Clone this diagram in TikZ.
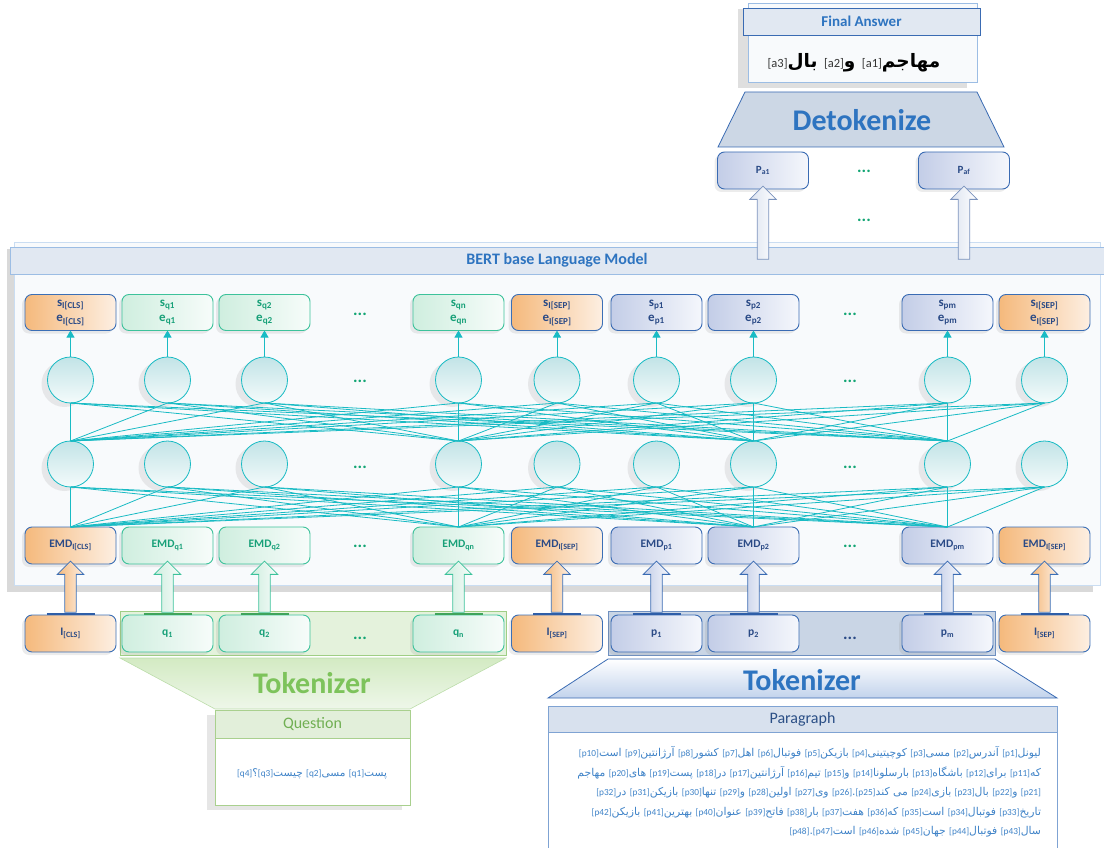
\documentclass[tikz,border=0pt]{standalone}
\usepackage{fontspec}
\setmainfont{Carlito}
\newfontfamily\fa[Script=Arabic]{DejaVu Sans}
\TeXXeTstate=1
\usetikzlibrary{shapes.arrows,shadows,calc,arrows.meta}
\definecolor{cyanL}{HTML}{19BBC4}
\definecolor{oF}{HTML}{F5B97C}
\definecolor{oL}{HTML}{FDEFE2}
\definecolor{oD}{HTML}{3B6FB6}
\definecolor{oT}{HTML}{2A4A86}
\definecolor{otab}{HTML}{2E5EA8}
\definecolor{gF}{HTML}{CFEEDF}
\definecolor{gL}{HTML}{F7FCFA}
\definecolor{gD}{HTML}{3DC29B}
\definecolor{gT}{HTML}{17A078}
\definecolor{gtab}{HTML}{3FA45B}
\definecolor{bF}{HTML}{C3CDE7}
\definecolor{bL}{HTML}{F5F7FC}
\definecolor{bD}{HTML}{3A6BB3}
\definecolor{bT}{HTML}{2A4A86}
\definecolor{btab}{HTML}{2E5EA8}
\definecolor{tF}{HTML}{DCE3F0}
\definecolor{tL}{HTML}{FFFFFF}
\definecolor{tD}{HTML}{7B93BD}
\definecolor{dotG}{HTML}{13A574}
\definecolor{dotB}{HTML}{2A4A86}
\definecolor{titleB}{HTML}{2E74C0}
\definecolor{hdrF}{HTML}{E1E8F2}
\definecolor{hdrD}{HTML}{9CBDE4}
\definecolor{panelF}{HTML}{F8FAFC}
\definecolor{panelD}{HTML}{CADDF2}
\definecolor{circT}{HTML}{C2E4E7}
\definecolor{circB}{HTML}{F4FBFB}
\definecolor{tokG}{HTML}{7DC35B}
\definecolor{qHF}{HTML}{E2EFDA}
\definecolor{qHD}{HTML}{A9D08E}
\definecolor{farsiB}{HTML}{3F83C8}
\definecolor{paraHF}{HTML}{D8E1EE}
\definecolor{paraD}{HTML}{7FA3D3}
\definecolor{paraT}{HTML}{2B4F86}
\definecolor{greyblue}{HTML}{C9D5E5}
\definecolor{greyblueD}{HTML}{6F90C0}
\definecolor{lgreen}{HTML}{E4F2DC}
\definecolor{lgreenD}{HTML}{9FCE85}
\definecolor{trapG}{HTML}{D3EAC3}
\definecolor{trapGL}{HTML}{EEF7E9}
\definecolor{trapB}{HTML}{C2D3EC}
\definecolor{detF}{HTML}{CCD7E5}
\definecolor{ansG}{HTML}{333333}
\newcommand\tagsize{\fontsize{9.3}{10}\selectfont}
\newcommand\ptag[1]{\beginL{\rmfamily\tagsize[#1]}\endL}
\newcommand\atag[1]{\beginL{\rmfamily\mdseries\fontsize{12.5}{13}\selectfont\color{ansG}[#1]}\endL}
\begin{document}
\begin{tikzpicture}[x=1pt,y=-1pt,
  every node/.style={inner sep=0pt, outer sep=0pt},
  boxkind/.style={left color=#1F, right color=#1L, draw=#1D, text=#1T},
  box/.style={rounded corners=7pt, minimum width=91pt, minimum height=37pt, line width=0.9pt,
    font=\bfseries\fontsize{11.5}{13}\selectfont,
    drop shadow={shadow xshift=-3pt, shadow yshift=-3pt, opacity=0.15}},
  sebox/.style={box, minimum height=36pt, align=center, font=\bfseries\fontsize{13}{15.5}\selectfont},
  neuron/.style={circle, minimum size=46pt, draw=cyanL, line width=0.8pt, top color=circT, bottom color=circB,
    drop shadow={shadow xshift=-6pt, shadow yshift=-4pt, opacity=0.15}},
  net/.style={draw=cyanL, line width=0.8pt},
  cyarrow/.style={draw=cyanL, line width=0.9pt, -{Triangle[length=7pt,width=8pt]}},
  harrow/.style={single arrow, shape border rotate=90, inner sep=5.3pt, single arrow head extend=7.5pt,
    line width=0.8pt, left color=#1F, right color=#1L, draw=#1D},
  dots/.style={font=\bfseries\fontsize{17}{17}\selectfont, text=dotG},
  para/.style={anchor=east, text=farsiB, font=\fa\fontsize{10.8}{12}\selectfont},
  title/.style={font=\bfseries\fontsize{30}{32}\selectfont},
]
\useasboundingbox (0,0) rectangle (1104,848);

% ---------- Final answer ----------
\node[draw=hdrD, fill=panelF, minimum width=229pt, minimum height=79pt,
  drop shadow={shadow xshift=-10pt, shadow yshift=-6pt, opacity=0.25}] (fabox) at (862.5,42.5) {};
\node[draw=bD, fill=hdrF, line width=0.8pt, minimum width=237pt, minimum height=27pt,
  font=\bfseries\fontsize{15}{17}\selectfont, text=titleB] (fahead) at (861.5,21.5) {Final Answer};
\node[font=\fa\bfseries\fontsize{18.5}{20}\selectfont, text=black] (ans) at (854,63)
  {\beginR مهاجم\atag{a1} و\atag{a2} بال\atag{a3}\endR};

% ---------- Detokenize ----------
\draw[draw=bD, fill=detF, line width=0.8pt] (745,92) -- (977,92) -- (1004,147) -- (718,147) -- cycle;
\node[title, text=titleB] (detok) at (862,120) {Detokenize};

\node[box, boxkind=b, font=\bfseries\fontsize{11}{12}\selectfont] (pa1) at (763,170.5) {P\textsubscript{a1}};
\node[box, boxkind=b, font=\bfseries\fontsize{11}{12}\selectfont] (paf) at (964,170.5) {P\textsubscript{af}};
\node[dots] (dpa) at (864,171) {...};
\node[dots] (dpb) at (864,220) {...};

% ---------- BERT panel ----------
\node[draw=panelD, fill=panelF, minimum width=1086pt, minimum height=343pt,
  drop shadow={shadow xshift=-7pt, shadow yshift=-7pt, opacity=0.3}] (bert) at (557,413.5) {};
\node[draw=hdrD, fill=hdrF, line width=0.8pt, minimum width=1094pt, minimum height=27pt,
  font=\bfseries\fontsize{16}{18}\selectfont, text=titleB] (bhead) at (557,260.5) {BERT base Language Model};

% top hollow arrows
\node[harrow=t, minimum height=73pt] (ua1) at ($(pa1.south)+(0,36.5)$) {};
\node[harrow=t, minimum height=73pt] (ua2) at ($(paf.south)+(0,36.5)$) {};

% ---------- rows ----------
\foreach \i/\x/\k/\s in {1/70.5/o/{I[CLS]}, 2/167.5/g/q1, 3/264.5/g/q2, 4/458.5/g/qn, 5/557/o/{I[SEP]},
    6/656.5/b/p1, 7/753.5/b/p2, 8/947.5/b/pm, 9/1044.5/o/{I[SEP]}}{
  \node[sebox, boxkind=\k] (s\i) at (\x,312.5) {s\textsubscript{\s}\\e\textsubscript{\s}};
  \node[neuron] (u\i) at (\x,380) {};
  \node[neuron] (l\i) at (\x,464) {};
  \node[box, boxkind=\k] (e\i) at (\x,545.5) {EMD\textsubscript{\s}};
}
\foreach \y in {314, 381, 467, 546}{
  \node[dots] at (360,\y) {...};
  \node[dots] at (850,\y) {...};
}

% connections
\foreach \i in {1,...,9}{
  \draw[cyarrow] (u\i.north) -- (s\i.south);
  \foreach \j in {1,4,7,8}{
    \draw[net] (u\i.south) -- (l\j.north);
    \draw[net] (l\i.south) -- (e\j.north);
  }
}

% ---------- token area ----------
\node[draw=lgreenD, fill=lgreen, minimum width=386pt, minimum height=44pt] (qarea) at (313,633) {};
\node[draw=greyblueD, fill=greyblue, minimum width=387pt, minimum height=44pt] (parea) at (801.5,633) {};

\foreach \i/\x/\k/\t in {1/70.5/o/{I\textsubscript{[CLS]}}, 2/167.5/g/{q\textsubscript{1}}, 3/264.5/g/{q\textsubscript{2}},
    4/458.5/g/{q\textsubscript{n}}, 5/557/o/{I\textsubscript{[SEP]}}, 6/656.5/b/{p\textsubscript{1}},
    7/753.5/b/{p\textsubscript{2}}, 8/947.5/b/{p\textsubscript{m}}, 9/1044.5/o/{I\textsubscript{[SEP]}}}{
  \node[box, boxkind=\k] (t\i) at (\x,633.5) {\t};
  \draw[draw=\k tab, line width=2pt] ($(t\i.north)+(-24,-1)$) -- ($(t\i.north)+(24,-1)$);
  \node[harrow=\k, minimum height=51pt] (ha\i) at ($(t\i.north)!0.5!(e\i.south)$) {};
}
\node[dots] at (360,638) {...};
\node[dots, text=dotB] at (850,638) {...};

% ---------- Tokenizers ----------
\draw[draw=lgreenD!70, top color=trapG, bottom color=trapGL, line width=0.6pt]
  (120,658) -- (506,658) -- (410,709) -- (215,709) -- cycle;
\node[title, text=tokG] (tokq) at (312,683) {Tokenizer};

\draw[draw=bD, top color=white, bottom color=trapB, line width=0.8pt]
  (608,659) -- (995,659) -- (1057,698) -- (548,698) -- cycle;
\node[title, text=titleB] (tokp) at (802,680) {Tokenizer};

% ---------- Question ----------
\node[draw=qHD, fill=white, minimum width=195pt, minimum height=95pt,
  drop shadow={shadow xshift=-8pt, shadow yshift=-5pt, opacity=0.2}] (qbox) at (312.5,757.5) {};
\node[draw=qHD, fill=qHF, minimum width=195pt, minimum height=28pt,
  font=\fontsize{16}{18}\selectfont, text=tokG!90!black] (qhead) at (312.5,724) {Question};
\node[text=farsiB, font=\fa\fontsize{10.6}{12}\selectfont] (qtext) at (312,774)
  {\renewcommand\tagsize{\fontsize{9.3}{10}\selectfont}\beginR پست\ptag{q1} مسی\ptag{q2} چیست\ptag{q3}؟\ptag{q4}\endR};

% ---------- Paragraph ----------
\node[draw=paraD, fill=white, minimum width=509pt, minimum height=150pt] (pbox) at (802.5,781) {};
\node[draw=paraD, fill=paraHF, minimum width=509pt, minimum height=26pt,
  font=\fontsize{16}{18}\selectfont, text=paraT] (phead) at (802.5,719) {Paragraph};
\node[para] (pl1) at (1041,753) {\beginR لیونل\ptag{p1} آندرس\ptag{p2} مسی\ptag{p3} کوچیتینی\ptag{p4} بازیکن\ptag{p5} فوتبال\ptag{p6} اهل\ptag{p7} کشور\ptag{p8} آرژانتین\ptag{p9} است\ptag{p10}\endR};
\node[para] (pl2) at (1041,773) {\beginR که\ptag{p11} برای\ptag{p12} باشگاه\ptag{p13} بارسلونا\ptag{p14} و\ptag{p15} تیم\ptag{p16} آرژانتین\ptag{p17} در\ptag{p18} پست\ptag{p19} های\ptag{p20} مهاجم\endR};
\node[para] (pl3) at (1041,793) {\beginR \ptag{p21} و\ptag{p22} بال\ptag{p23} بازی\ptag{p24} می کند\ptag{p25}.\ptag{p26} وی\ptag{p27} اولین\ptag{p28} و\ptag{p29} تنها\ptag{p30} بازیکن\ptag{p31} در\ptag{p32}\endR};
\node[para] (pl4) at (1041,813) {\beginR تاریخ\ptag{p33} فوتبال\ptag{p34} است\ptag{p35} که\ptag{p36} هفت\ptag{p37} بار\ptag{p38} فاتح\ptag{p39} عنوان\ptag{p40} بهترین\ptag{p41} بازیکن\ptag{p42}\endR};
\node[para] (pl5) at (1041,832) {\beginR سال\ptag{p43} فوتبال\ptag{p44} جهان\ptag{p45} شده\ptag{p46} است\ptag{p47}.\ptag{p48}\endR};
\end{tikzpicture}
\end{document}
